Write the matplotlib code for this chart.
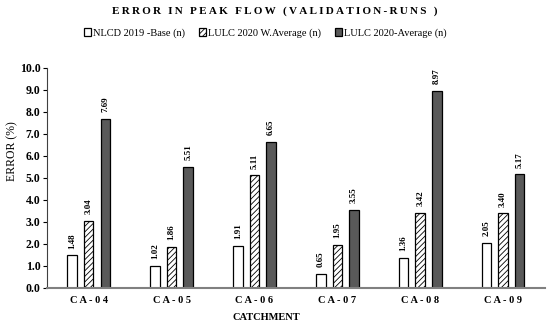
import numpy as np
import matplotlib.pyplot as plt

plt.rcParams['font.family'] = ['Liberation Serif', 'DejaVu Serif']
plt.rcParams['hatch.linewidth'] = 0.6

# === Datos ===
catchments = ["CA-04", "CA-05", "CA-06", "CA-07", "CA-08", "CA-09"]
series_names = ["NLCD 2019 -Base (n)", "LULC 2020 W.Average (n)", "LULC 2020-Average (n)"]
nlcd_base = [1.48, 1.02, 1.91, 0.65, 1.36, 2.05]
lulc_waverage = [3.04, 1.86, 5.11, 1.95, 3.42, 3.40]
lulc_average = [7.69, 5.51, 6.65, 3.55, 8.97, 5.17]
y_ticks = np.arange(0, 10.5, 1.0)

def spaced(s, sep=" ", word=" "):
    # espaciado entre letras
    return word.join(sep.join(w) for w in s.split(" "))

# === Figura ===
fig = plt.figure(figsize=(5.5, 3.31), dpi=100)
ax = fig.add_axes([0.086, 0.13, 0.904, 0.665])

x = np.arange(len(catchments))
w = 0.115
offs = [-0.2, 0.0, 0.2]
styles = [dict(color="white", hatch=None),
          dict(color="white", hatch="//////"),
          dict(color="#595959", hatch=None)]

for vals, off, st, name in zip([nlcd_base, lulc_waverage, lulc_average], offs, styles, series_names):
    bars = ax.bar(x + off, vals, w, color=st["color"], hatch=st["hatch"],
                  edgecolor="black", linewidth=0.9, label=name)
    for b, v in zip(bars, vals):
        ax.text(b.get_x() + b.get_width() / 2, v + 0.3, f"{v:.2f}",
                rotation=90, ha="center", va="bottom", fontsize=6.5, fontweight="bold")

ax.set_xlim(-0.5, len(catchments) - 0.5)
ax.set_ylim(0, 10)
ax.set_yticks(y_ticks)
ax.set_yticklabels([f"{t:.1f}" for t in y_ticks], fontsize=8.5, fontweight="bold")
ax.set_xticks(x)
ax.set_xticklabels([spaced(c) for c in catchments], fontsize=7.5, fontweight="bold")
ax.tick_params(axis="x", length=0, pad=6)
ax.tick_params(axis="y", length=3, width=0.8, pad=2)

for s in ["top", "right"]:
    ax.spines[s].set_visible(False)
ax.spines["left"].set_color("#404040")
ax.spines["bottom"].set_color("#808080")
ax.spines["bottom"].set_linewidth(1.5)

ax.set_ylabel("ERROR (%)", fontsize=8.5)
ax.yaxis.set_label_coords(-0.058, 0.62)
ax.set_xlabel("CATCHMENT", fontsize=7.5, fontweight="bold")
ax.xaxis.set_label_coords(0.44, -0.115)

fig.text(0.5, 0.967, spaced("ERROR IN PEAK FLOW (VALIDATION-RUNS )", "\u2009", "\u2009 \u2009"),
         ha="center", va="center", fontsize=8, fontweight="bold")

fig.legend(loc="center", bbox_to_anchor=(0.482, 0.9), ncol=3, frameon=False,
           fontsize=7.5, handlelength=0.7, handleheight=0.7, handletextpad=0.2,
           columnspacing=1.3)

fig.savefig("out.png", dpi=100)
